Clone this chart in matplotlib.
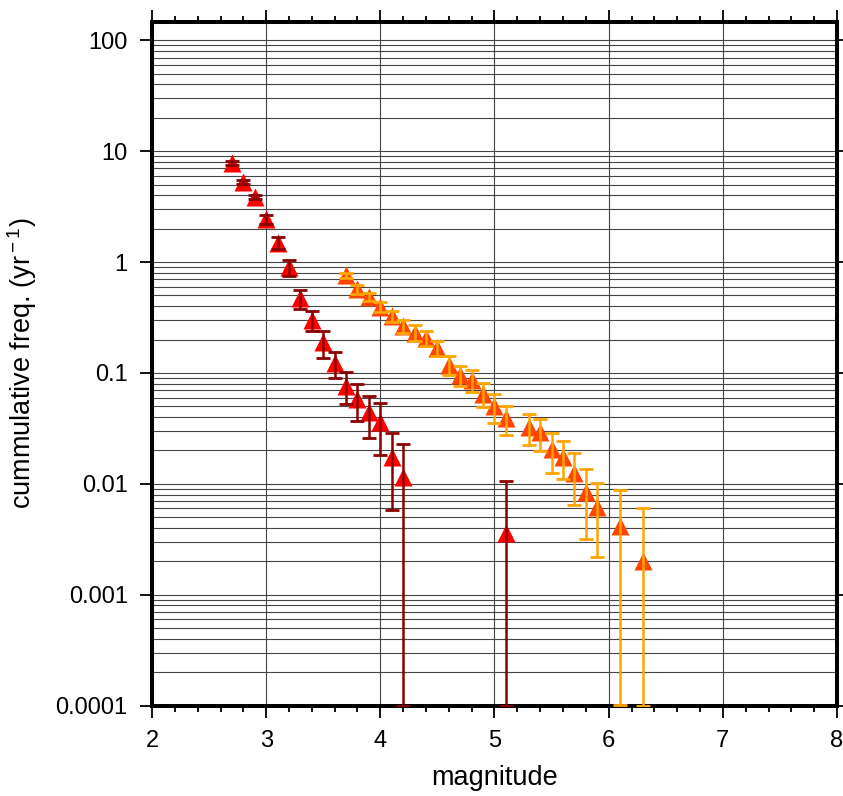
import numpy as np
import matplotlib
matplotlib.use("Agg")
import matplotlib.pyplot as plt
from matplotlib.ticker import MultipleLocator, LogLocator, NullFormatter, FixedLocator, FuncFormatter

plt.rcParams['font.family'] = ['Liberation Sans', 'DejaVu Sans']
plt.rcParams['mathtext.fontset'] = 'custom'
plt.rcParams['mathtext.rm'] = 'Liberation Sans'
plt.rcParams['mathtext.it'] = 'Liberation Sans:italic'
plt.rcParams['mathtext.bf'] = 'Liberation Sans:bold'

# ---- data ----
mag_a = [2.7, 2.8, 2.9, 3.0, 3.1, 3.2, 3.3, 3.4, 3.5, 3.6, 3.7, 3.8, 3.9, 4.0, 4.1, 4.2, 5.1]
rate_a = [7.85, 5.3, 3.85, 2.44, 1.50, 0.90, 0.47, 0.30, 0.189, 0.122, 0.077, 0.058,
          0.044, 0.036, 0.0174, 0.0114, 0.0036]
err_a = [0.34, 0.23, 0.18, 0.22, 0.19, 0.148, 0.09, 0.062, 0.052, 0.0325, 0.0245, 0.021,
         0.018, 0.018, 0.0116, 0.0115, 0.007]

mag_b = [3.7, 3.8, 3.9, 4.0, 4.1, 4.2, 4.3, 4.4, 4.5, 4.6, 4.7, 4.8, 4.9, 5.0, 5.1,
         5.3, 5.4, 5.5, 5.6, 5.7, 5.8, 5.9, 6.1, 6.3]
rate_b = [0.76, 0.567, 0.487, 0.395, 0.326, 0.265, 0.231, 0.208, 0.168, 0.118, 0.096, 0.087,
          0.065, 0.050, 0.039, 0.0324, 0.0293, 0.0206, 0.0176, 0.0126, 0.0084, 0.0062,
          0.0042, 0.0020]
err_b = [0.04, 0.049, 0.042, 0.037, 0.039, 0.035, 0.037, 0.033, 0.026, 0.023, 0.020, 0.020,
         0.016, 0.0148, 0.0117, 0.0098, 0.0095, 0.008, 0.0065, 0.0062, 0.0052, 0.004,
         0.0045, 0.004]

y_ticks = [0.0001, 0.001, 0.01, 0.1, 1, 10, 100]
x_ticks = [2, 3, 4, 5, 6, 7, 8]
YMIN, YMAX = 1e-4, 148
XMIN, XMAX = 2, 8

fig = plt.figure(figsize=(8.43, 7.96), dpi=100)
ax = fig.add_axes([152 / 843, 1 - 705.5 / 796, 685 / 843, 684 / 796])
ax.set_yscale('log')
ax.set_xlim(XMIN, XMAX)
ax.set_ylim(YMIN, YMAX)


def draw(mags, rates, errs, face, barc):
    m = np.asarray(mags)
    r = np.asarray(rates)
    e = np.asarray(errs)
    lo = np.where(e >= r, r - YMIN, e)
    ax.plot(m, r, linestyle='none', marker='^', ms=12.5, mfc=face, mec='none', zorder=3)
    ax.errorbar(m, r, yerr=[lo, e], fmt='none', ecolor=barc, elinewidth=1.8,
                capsize=5, capthick=2.0, zorder=4)


draw(mag_a, rate_a, err_a, '#ff0000', '#8b0000')
draw(mag_b, rate_b, err_b, '#ff4500', '#ffa500')

# grid
ax.yaxis.set_major_locator(FixedLocator(y_ticks))
ax.yaxis.set_minor_locator(LogLocator(base=10, subs=np.arange(2, 10), numticks=20))
ax.yaxis.set_major_formatter(FuncFormatter(lambda v, p: '%g' % v))
ax.yaxis.set_minor_formatter(NullFormatter())
ax.xaxis.set_major_locator(FixedLocator(x_ticks))
ax.xaxis.set_minor_locator(MultipleLocator(0.2))
ax.grid(axis='y', which='both', color='#454545', lw=0.8)
ax.grid(axis='x', which='major', color='#454545', lw=0.8)
ax.set_axisbelow(True)

for s in ax.spines.values():
    s.set_linewidth(2.9)
    s.set_zorder(2.5)

ax.tick_params(which='major', direction='out', length=8.5, width=1.3,
               top=True, right=True, labelsize=17, pad=9, colors='black')
ax.tick_params(axis='x', which='minor', direction='out', length=4, width=1.3,
               top=True, bottom=True)
ax.tick_params(axis='y', which='minor', length=0)

ax.set_xlabel('magnitude', fontsize=19.5)
ax.set_ylabel('cummulative freq. (yr$^{\\rm -1}$)', fontsize=19.5)
ax.xaxis.set_label_coords(0.5, -0.087)
ax.yaxis.set_label_coords(-0.165, 0.5)

fig.savefig('out.png', dpi=100)
